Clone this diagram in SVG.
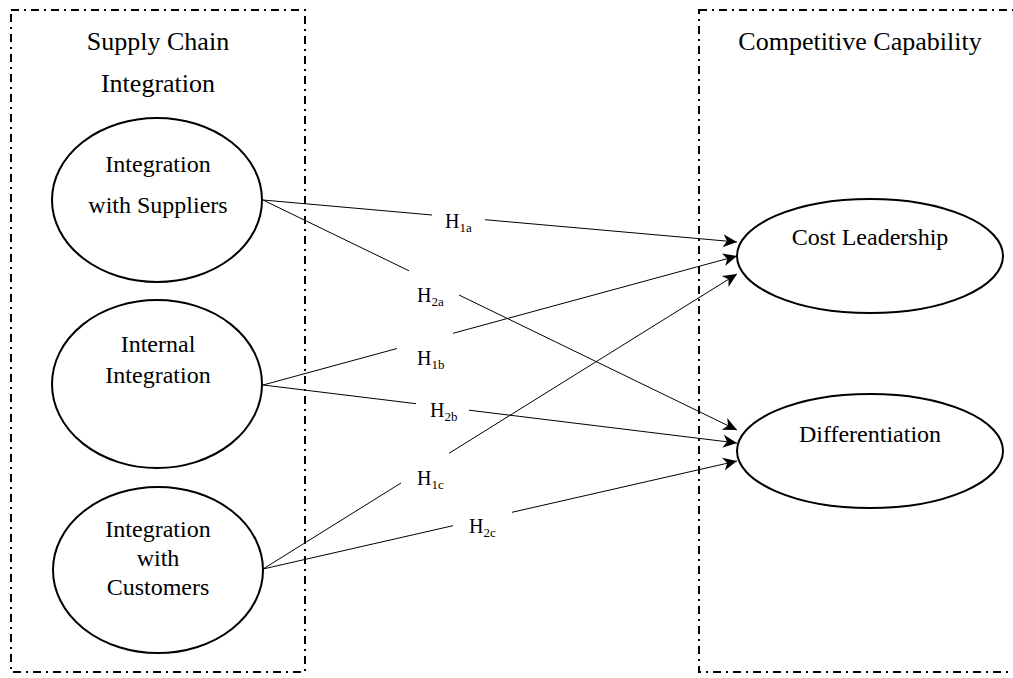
<svg xmlns="http://www.w3.org/2000/svg" width="1013" height="678" viewBox="0 0 1013 678">
<style>
.box{fill:none;stroke:#000;stroke-width:2;stroke-dasharray:8,5,2,5}
.node{fill:#fff;stroke:#000;stroke-width:2}
.t{font-family:'Liberation Serif','DejaVu Serif',serif;fill:#000;text-anchor:middle}
.h{font-size:26px}
.n{font-size:24px}
.lab{font-family:'Liberation Serif','DejaVu Serif',serif;font-size:20px;fill:#000}
.sub{font-size:13px}
.c{fill:none;stroke:#000;stroke-width:1}
</style>
<defs>
<marker id="arr" markerUnits="userSpaceOnUse" markerWidth="16" markerHeight="14" refX="14" refY="7" orient="auto">
<path d="M0,0.5 L14,7 L0,13.5 L4,7 z" fill="#000"/>
</marker>
</defs>
<g id="group-sci">
<rect class="box" x="11" y="10" width="294" height="662"/>
<text class="t h" font-family="Liberation Serif, serif" x="158" y="50">Supply Chain</text>
<text class="t h" font-family="Liberation Serif, serif" x="158" y="92">Integration</text>
</g>
<g id="group-cc">
<rect class="box" x="699" y="10" width="330" height="662"/>
<text class="t h" font-family="Liberation Serif, serif" x="860" y="50">Competitive Capability</text>
</g>
<g id="connectors">
<path class="c" d="M263,200 L432,215 M485,219.7 L737,242" marker-end="url(#arr)"/>
<path class="c" d="M263,200 L409,270.8 M459,295 L737,430" marker-end="url(#arr)"/>
<path class="c" d="M263,385 L397,348.5 M453,333.3 L737,256" marker-end="url(#arr)"/>
<path class="c" d="M263,385 L416,403.7 M469,410.2 L737,443" marker-end="url(#arr)"/>
<path class="c" d="M263,569 L401,483 M449,453.3 L737,274" marker-end="url(#arr)"/>
<path class="c" d="M263,569 L453,525.7 M512,512.3 L737,461" marker-end="url(#arr)"/>
<text class="lab" font-family="Liberation Serif, serif" x="445" y="228">H<tspan class="sub" dy="4">1a</tspan></text>
<text class="lab" font-family="Liberation Serif, serif" x="417" y="302">H<tspan class="sub" dy="4">2a</tspan></text>
<text class="lab" font-family="Liberation Serif, serif" x="417" y="365">H<tspan class="sub" dy="4">1b</tspan></text>
<text class="lab" font-family="Liberation Serif, serif" x="430" y="417">H<tspan class="sub" dy="4">2b</tspan></text>
<text class="lab" font-family="Liberation Serif, serif" x="417" y="485">H<tspan class="sub" dy="4">1c</tspan></text>
<text class="lab" font-family="Liberation Serif, serif" x="469" y="533">H<tspan class="sub" dy="4">2c</tspan></text>
</g>
<g id="node-suppliers">
<ellipse class="node" cx="157" cy="200" rx="105" ry="82"/>
<text class="t n" font-family="Liberation Serif, serif" x="158" y="172">Integration</text>
<text class="t n" font-family="Liberation Serif, serif" x="158" y="213">with Suppliers</text>
</g>
<g id="node-internal">
<ellipse class="node" cx="157" cy="384" rx="105" ry="84"/>
<text class="t n" font-family="Liberation Serif, serif" x="158" y="352">Internal</text>
<text class="t n" font-family="Liberation Serif, serif" x="158" y="383">Integration</text>
</g>
<g id="node-customers">
<ellipse class="node" cx="158" cy="570" rx="105" ry="83"/>
<text class="t n" font-family="Liberation Serif, serif" x="158" y="537">Integration</text>
<text class="t n" font-family="Liberation Serif, serif" x="158" y="566">with</text>
<text class="t n" font-family="Liberation Serif, serif" x="158" y="595">Customers</text>
</g>
<g id="node-cost">
<ellipse class="node" cx="870" cy="256" rx="133" ry="57"/>
<text class="t n" font-family="Liberation Serif, serif" x="870" y="245">Cost Leadership</text>
</g>
<g id="node-diff">
<ellipse class="node" cx="870" cy="451" rx="133" ry="57"/>
<text class="t n" font-family="Liberation Serif, serif" x="870" y="442">Differentiation</text>
</g>
</svg>
